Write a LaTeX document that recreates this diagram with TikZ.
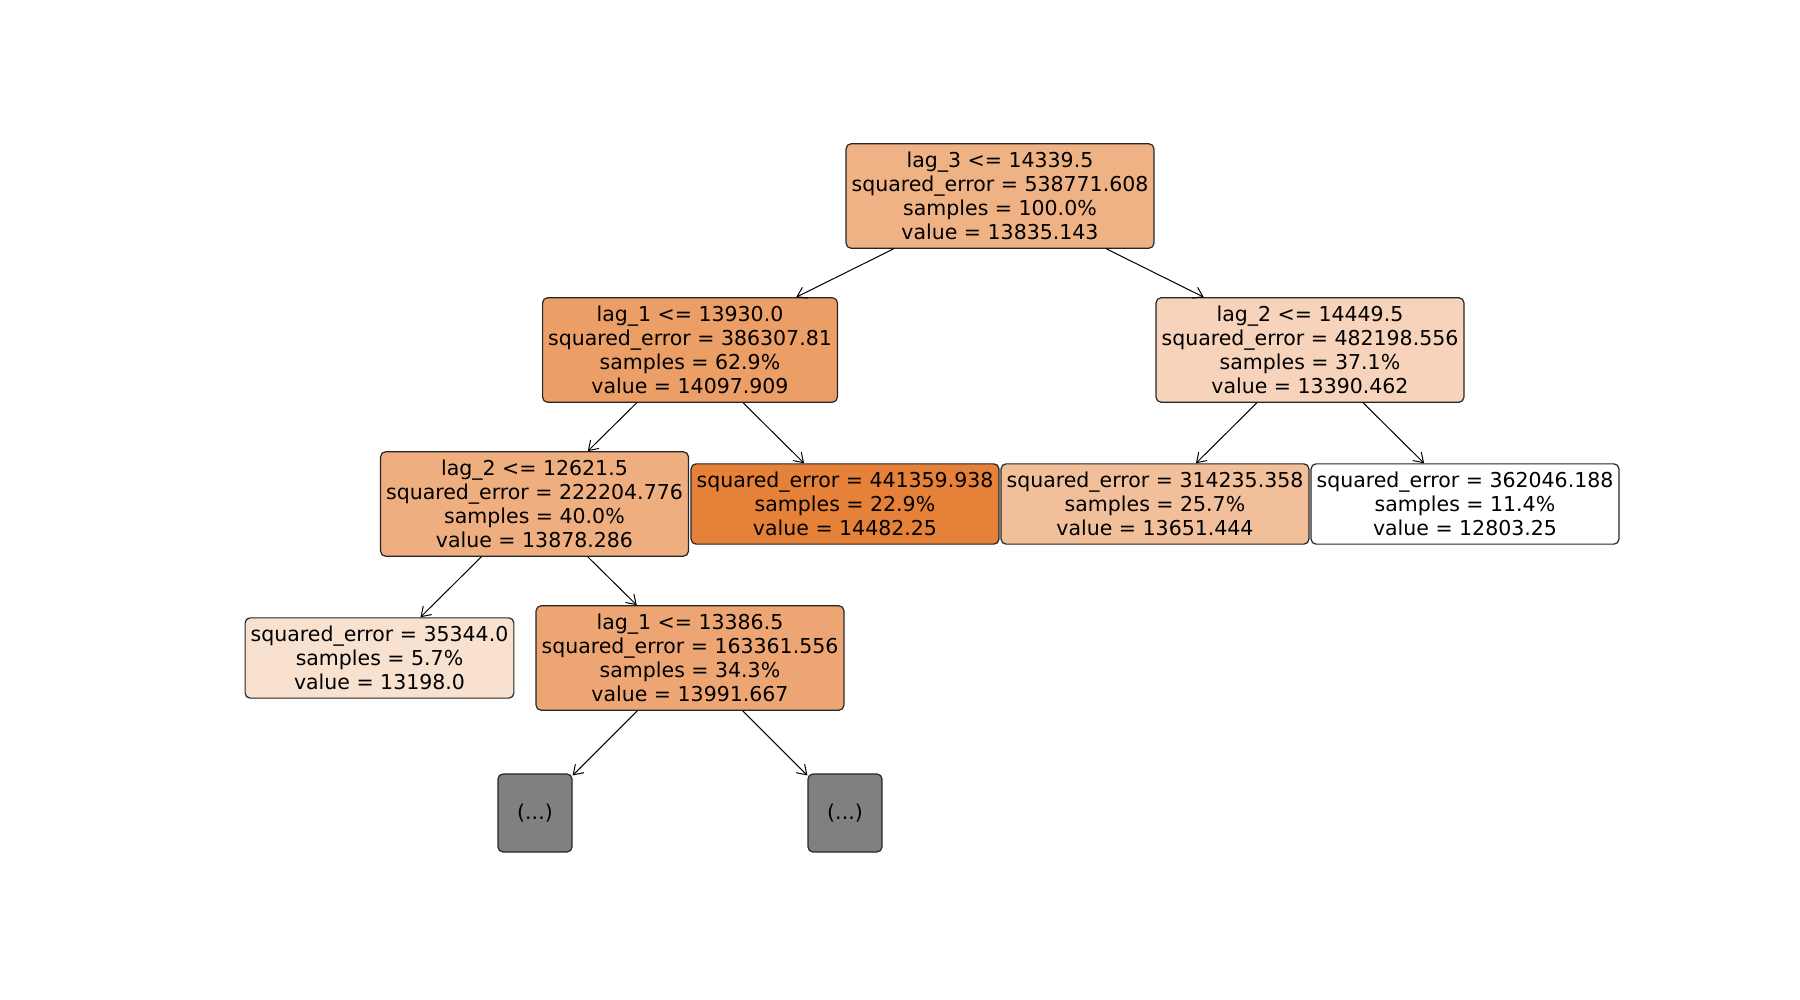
\documentclass[tikz,border=0pt]{standalone}
\usepackage{fontspec}
\setmainfont{DejaVu Sans}
\usetikzlibrary{arrows.meta}
\definecolor{cRoot}{RGB}{239,178,133}
\definecolor{cA}{RGB}{235,158,102}
\definecolor{cB}{RGB}{246,211,186}
\definecolor{cC}{RGB}{238,174,128}
\definecolor{cD}{RGB}{229,129,57}
\definecolor{cE}{RGB}{242,191,155}
\definecolor{cF}{RGB}{255,255,255}
\definecolor{cG}{RGB}{249,225,208}
\definecolor{cH}{RGB}{237,166,115}
\definecolor{cGray}{RGB}{128,128,128}
\tikzset{
  treebox/.style={draw=black!85, line width=1.2pt, rounded corners=5pt, align=center,
    inner xsep=5.5pt, inner ysep=8pt, font=\fontsize{20.5}{24.2}\selectfont, text=black},
  graybox/.style={treebox, fill=cGray, minimum width=74pt, minimum height=78pt},
  edge/.style={draw=black, line width=1pt, -{Straight Barb[length=9pt,width=12pt,line width=1pt]}}
}
\begin{document}
\begin{tikzpicture}[x=1pt,y=-1pt]
\useasboundingbox (0,0) rectangle (1800,1000);
\node[treebox, fill=cRoot] (root) at (1000,196) {lag\_3 <= 14339.5\\squared\_error = 538771.608\\samples = 100.0\%\\value = 13835.143};
\node[treebox, fill=cA] (a) at (690,350) {lag\_1 <= 13930.0\\squared\_error = 386307.81\\samples = 62.9\%\\value = 14097.909};
\node[treebox, fill=cB] (b) at (1310,350) {lag\_2 <= 14449.5\\squared\_error = 482198.556\\samples = 37.1\%\\value = 13390.462};
\node[treebox, fill=cC] (c) at (534.5,504) {lag\_2 <= 12621.5\\squared\_error = 222204.776\\samples = 40.0\%\\value = 13878.286};
\node[treebox, fill=cD] (d) at (845,504) {squared\_error = 441359.938\\samples = 22.9\%\\value = 14482.25};
\node[treebox, fill=cE] (e) at (1155,504) {squared\_error = 314235.358\\samples = 25.7\%\\value = 13651.444};
\node[treebox, fill=cF] (f) at (1465,504) {squared\_error = 362046.188\\samples = 11.4\%\\value = 12803.25};
\node[treebox, fill=cG] (g) at (379.5,658) {squared\_error = 35344.0\\samples = 5.7\%\\value = 13198.0};
\node[treebox, fill=cH] (h) at (690,658) {lag\_1 <= 13386.5\\squared\_error = 163361.556\\samples = 34.3\%\\value = 13991.667};
\node[graybox] (i) at (535,813) {(...)};
\node[graybox] (j) at (845,813) {(...)};
\draw[edge] (root) -- (a);
\draw[edge] (root) -- (b);
\draw[edge] (a) -- (c);
\draw[edge] (a) -- (d);
\draw[edge] (b) -- (e);
\draw[edge] (b) -- (f);
\draw[edge] (c) -- (g);
\draw[edge] (c) -- (h);
\draw[edge] (h) -- (i);
\draw[edge] (h) -- (j);
\end{tikzpicture}
\end{document}
